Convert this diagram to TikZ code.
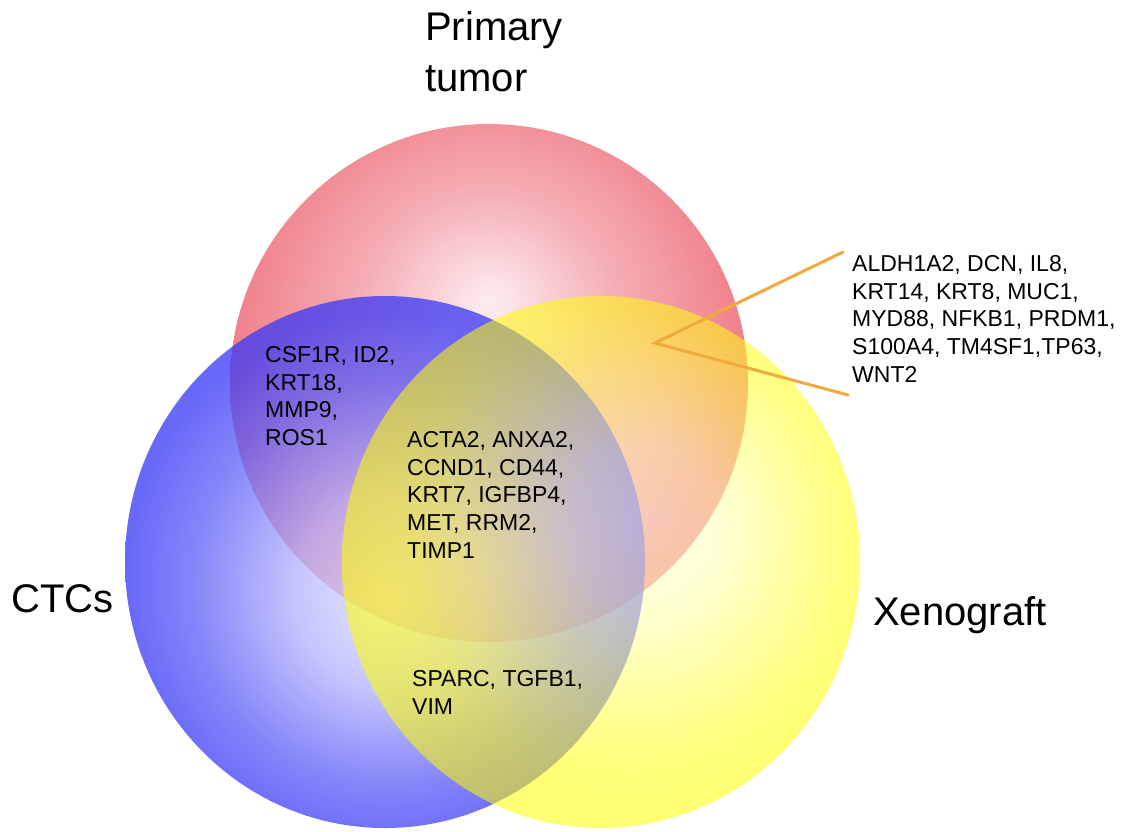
\documentclass[tikz,border=0pt]{standalone}
\usepackage{tikz}
\usepackage{fontspec}
\setmainfont{Liberation Sans}
\definecolor{calloutorange}{RGB}{240,170,60}
% the central 50bp square of each shading is fitted to the circle: 25bp = radius
\pgfdeclareradialshading{redsh}{\pgfpoint{0bp}{8bp}}{rgb(0bp)=(0.99,0.93,0.94); rgb(12.5bp)=(0.96,0.68,0.71); rgb(25bp)=(0.94,0.50,0.54); rgb(50bp)=(0.94,0.50,0.54)}
\pgfdeclareradialshading{bluesh}{\pgfpoint{0.5bp}{-3.5bp}}{rgb(0bp)=(0.88,0.88,1); rgb(9bp)=(0.70,0.70,1); rgb(19bp)=(0.36,0.36,0.97); rgb(25bp)=(0.22,0.22,0.97); rgb(50bp)=(0.22,0.22,0.97)}
\pgfdeclareradialshading{yellowsh}{\pgfpoint{4.75bp}{4bp}}{rgb(0bp)=(1,1,0.85); rgb(7.5bp)=(1,1,0.70); rgb(15bp)=(1,1,0.35); rgb(21bp)=(1,1,0.08); rgb(25bp)=(1,1,0); rgb(50bp)=(1,1,0)}
\begin{document}
\begin{tikzpicture}[x=1pt,y=-1pt,
  gene/.style={anchor=north west, align=left, inner sep=0pt, font=\fontsize{23}{27.6}\selectfont},
  biglabel/.style={anchor=base west, inner sep=0pt, font=\fontsize{40}{51}\selectfont},
  bigtwo/.style={anchor=north west, align=left, inner sep=0pt, font=\fontsize{40}{51}\selectfont},
  callout/.style={draw=calloutorange, line width=3pt, line join=miter, line cap=round}]
\useasboundingbox[fill=white] (0,0) rectangle (1127,831);
% circles
\coordinate (cred) at (489,383);
\coordinate (cblue) at (385,562);
\coordinate (cyel) at (601,562);
\shade[shading=redsh] (cred) circle [radius=259];
\shade[shading=bluesh, fill opacity=0.75] (cblue) ellipse [x radius=260, y radius=266];
\shade[shading=yellowsh, fill opacity=0.55] (cyel) ellipse [x radius=259, y radius=266];
% set labels
\node[bigtwo] (primary) at (425,11.4) {Primary\\tumor};
\node[biglabel] (ctcs) at (11,612) {CTCs};
\node[biglabel] (xeno) at (873,625) {Xenograft};
% gene lists
\node[gene] (rb) at (265,346.5) {CSF1R, ID2,\\KRT18,\\MMP9,\\ROS1};
\node[gene] (rby) at (407,431.5) {ACTA2, ANXA2,\\CCND1, CD44,\\KRT7, IGFBP4,\\MET, RRM2,\\TIMP1};
\node[gene] (by) at (412,670.5) {SPARC, TGFB1,\\VIM};
\node[gene] (ry) at (852,255.5) {ALDH1A2, DCN, IL8,\\KRT14, KRT8, MUC1,\\MYD88, NFKB1, PRDM1,\\S100A4, TM4SF1,TP63,\\WNT2};
% callout
\coordinate (ctop) at (843,252);
\coordinate (cvert) at (655,343);
\coordinate (cbot) at (848,395);
\draw[callout] (ctop) -- (cvert) -- (cbot);
\end{tikzpicture}
\end{document}
